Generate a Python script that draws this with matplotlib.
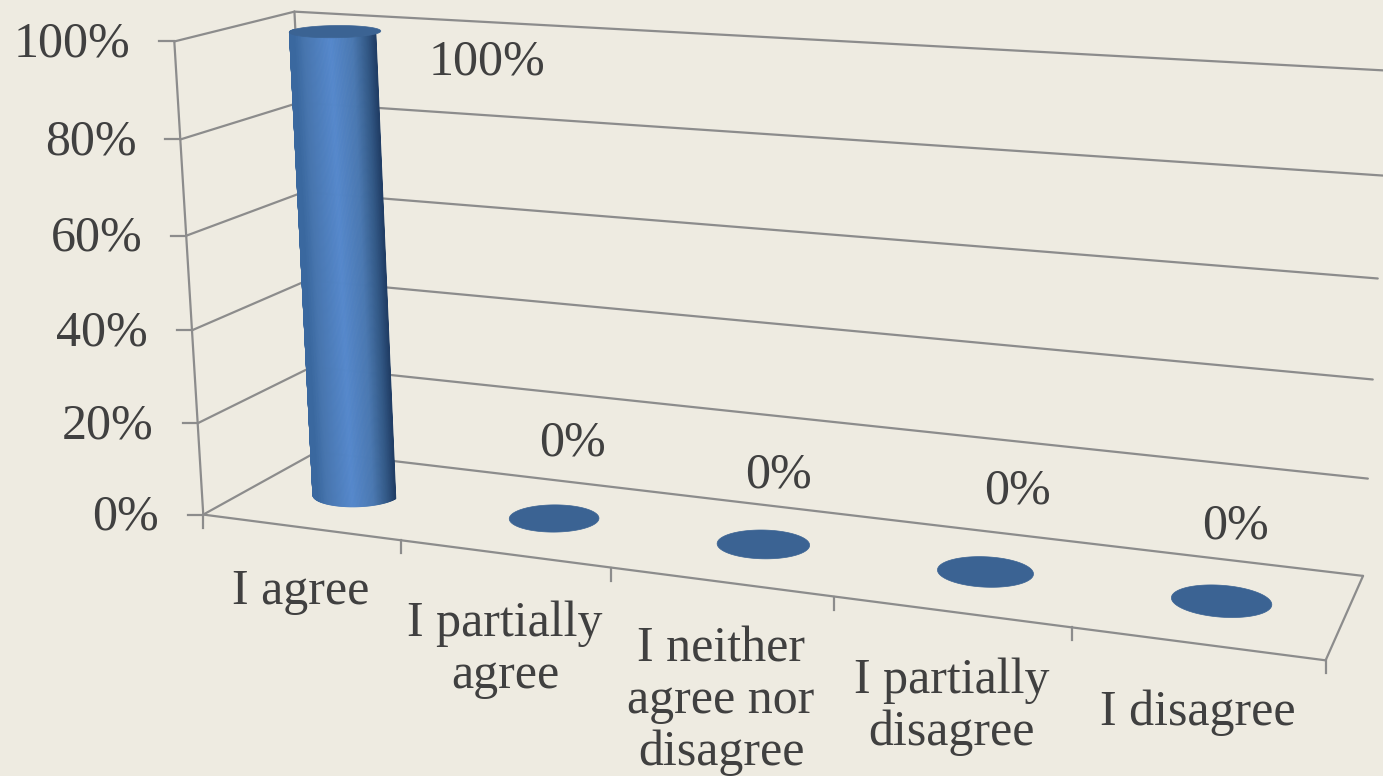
import numpy as np
import matplotlib
matplotlib.use("Agg")
import matplotlib.pyplot as plt
from matplotlib.colors import LinearSegmentedColormap

categories = ["I agree", "I partially\nagree", "I neither\nagree nor\ndisagree",
              "I partially\ndisagree", "I disagree"]
values = [100, 0, 0, 0, 0]
value_ticks = [0, 20, 40, 60, 80, 100]
value_labels = ["0%", "20%", "40%", "60%", "80%", "100%"]

BG = "#EEEBE1"
GRID = "#8C8C8C"
TEXT = "#404040"
TOP = "#3B6393"
FONT = "Liberation Serif"
FS = 36

# Calibration of the perspective scale: (category pos, depth, value) -> pixel
calib = [
    (0, 0, 0, 204, 514), (0, 0, 100, 173, 42), (0, 0, 80, 180, 140), (0, 0, 60, 188, 235),
    (0, 0, 40, 192, 330), (0, 0, 20, 197, 423), (1, 0, 0, 401, 540), (2, 0, 0, 611, 568),
    (3, 0, 0, 834, 597), (4, 0, 0, 1072, 628), (5, 0, 0, 1326, 660),
    (0, 1, 100, 295, 11), (5, 1, 0, 1363, 575), (5, 1, 100, 1388, 71), (0, 1, 0, 316, 453),
]
A, b = [], []
for u, v, w, x, y in calib:
    A.append([u, v, w, 1, 0, 0, 0, 0, -x * u, -x * v, -x * w]); b.append(x)
    A.append([0, 0, 0, 0, u, v, w, 1, -y * u, -y * v, -y * w]); b.append(y)
P = np.append(np.linalg.lstsq(np.array(A, float), np.array(b, float), rcond=None)[0], 1).reshape(3, 4)


def proj(u, v, w):
    u, v, w = np.broadcast_arrays(np.asarray(u, float), np.asarray(v, float), np.asarray(w, float))
    h = P @ np.stack([u.ravel(), v.ravel(), w.ravel(), np.ones(u.size)])
    return (h[0] / h[2]).reshape(u.shape), (h[1] / h[2]).reshape(u.shape)


fig = plt.figure(figsize=(13.83, 7.76), dpi=100, facecolor=BG)
ax = fig.add_axes([0, 0, 1, 1])
ax.set_xlim(0, 1383)
ax.set_ylim(776, 0)
ax.axis("off")


def seg(p, q, lw=1.6):
    x0, y0 = proj(*p)
    x1, y1 = proj(*q)
    ax.plot([x0, x1], [y0, y1], color=GRID, lw=lw, solid_capstyle="round", zorder=1)


n = len(categories)
for t, lab in zip(value_ticks, value_labels):
    seg((0, 0, t), (0, 1, t))
    seg((0, 1, t), (n, 1, t))
    x, y = proj(0, 0, t)
    ax.plot([x - 15, x], [y, y], color=GRID, lw=1.6, zorder=1)
    ax.text(x - 44, y + 3, lab, ha="right", va="center",
            fontsize=FS, family=FONT, color=TEXT)
seg((0, 0, 0), (0, 0, 100))
seg((0, 1, 0), (0, 1, 100))
seg((0, 0, 0), (n, 0, 0))
seg((n, 0, 0), (n, 1, 0))
for i in range(n + 1):
    x, y = proj(i, 0, 0)
    ax.plot([x, x], [y, y + 13], color=GRID, lw=1.6, zorder=1)

RU, RV = 0.203, 0.185
VC = 0.5
shade = LinearSegmentedColormap.from_list(
    "cyl", [(0, "#3A689F"), (0.12, "#4775AE"), (0.45, "#5588CC"), (0.72, "#4A78B1"),
            (0.9, "#325885"), (1, "#213E66")])
ang = np.linspace(0, 2 * np.pi, 181)
for i, val in enumerate(values):
    uc = i + 0.5
    if val > 0:
        phi = np.linspace(np.pi, 2 * np.pi, 121)
        cu, cv = uc + RU * np.cos(phi), VC + RV * np.sin(phi)
        x_left = proj(uc - RU, VC, 0)[0]
        x_right = proj(uc + RU, VC, 0)[0]
        for k in range(len(phi) - 1):
            xb, yb = proj(cu[k:k + 2], cv[k:k + 2], 0)
            xt, yt = proj(cu[k:k + 2], cv[k:k + 2], val)
            frac = (0.5 * (xb[0] + xb[1]) - x_left) / (x_right - x_left)
            col = shade(np.clip(frac, 0, 1))
            ax.fill([xb[0], xb[1], xt[1], xt[0]], [yb[0], yb[1], yt[1], yt[0]],
                    facecolor=col, edgecolor=col, lw=0.6, zorder=3)
    x, y = proj(uc + RU * np.cos(ang), VC + RV * np.sin(ang), val)
    ax.fill(x, y, facecolor=TOP, edgecolor=TOP, lw=0.5, zorder=4)

# data labels
label_off = [(152, 31), (18, -75), (15, -69), (32, -80), (14, -75)]
for i, val in enumerate(values):
    x, y = proj(i + 0.5, VC, val)
    ax.text(x + label_off[i][0], y + label_off[i][1], f"{val}%", ha="center", va="center",
            fontsize=FS, family=FONT, color=TEXT, zorder=5)

# category labels
cat_xy = [(301, 592), (505, 650), (721, 701), (952, 707), (1198, 713)]
for (x, y), c in zip(cat_xy, categories):
    ax.text(x, y, c, ha="center", va="center", fontsize=FS, family=FONT, color=TEXT,
            linespacing=1.15, zorder=5)

fig.savefig("out.png", dpi=100, facecolor=BG)
